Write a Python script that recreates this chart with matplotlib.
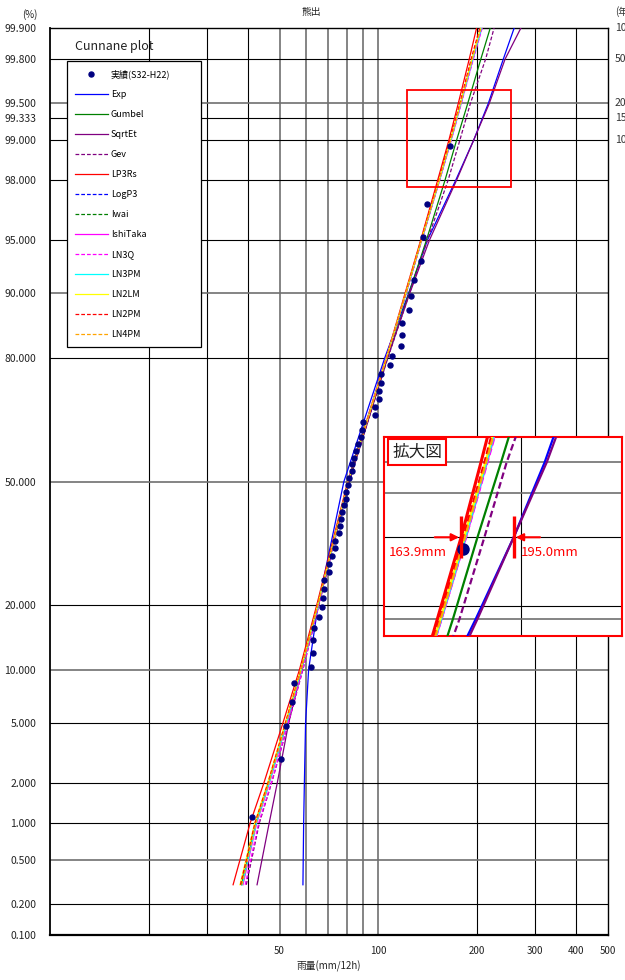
import math
import numpy as np
import matplotlib
matplotlib.use("Agg")
import matplotlib.pyplot as plt
from matplotlib.patches import Rectangle
from matplotlib.ticker import FixedLocator, NullLocator, FixedFormatter

plt.rcParams['font.family'] = ['Noto Sans CJK JP', 'DejaVu Sans']

# observed annual max rainfall (mm/12h), sorted, S32-H22 (54 years)
rain = [41.3, 50.6, 52.3, 54.7, 55.2, 62.4, 63.1, 63.4, 63.6, 65.7,
        67.3, 67.8, 68.3, 68.5, 70.6, 70.8, 72.2, 73.5, 74.0, 75.6,
        76.4, 76.8, 77.5, 78.3, 79.4, 79.9, 80.8, 81.6, 82.9, 83.3,
        84.4, 85.5, 86.6, 88.4, 89.0, 89.6, 97.5, 97.8, 100.3, 100.6,
        101.5, 101.9, 108.8, 110.1, 117.4, 118.2, 118.2, 124.2, 125.3, 128.0,
        134.9, 136.4, 140.3, 165.0]

# non-exceedance probability (%) where the fitted curves were read
p_levels = [0.3, 1, 2, 5, 10, 20, 50, 80, 90, 95, 98, 99, 99.5, 99.8, 99.9]

q_exp      = [58.9, 59.2, 59.5, 60.0, 61.3, 65.5, 78.5, 104.5, 123.5, 141.0, 172.0, 195.0, 216.0, 240.0, 259.0]
q_gumbel   = [38.3, 42.4, 46.3, 52.6, 58.4, 65.6, 81.3, 106.5, 123.8, 140.0, 159.5, 173.0, 187.0, 205.0, 219.0]
q_sqrtet   = [42.7, 46.5, 49.2, 53.3, 58.4, 65.5, 81.5, 106.5, 124.5, 143.0, 173.0, 195.0, 217.5, 243.0, 271.5]
q_gev      = [39.6, 43.4, 47.3, 53.2, 58.9, 65.9, 81.4, 106.8, 124.3, 141.0, 163.0, 177.0, 190.5, 212.0, 225.0]
q_lp3rs    = [36.1, 40.7, 44.8, 51.2, 57.5, 64.9, 80.6, 105.5, 120.5, 134.5, 151.5, 163.9, 175.0, 189.0, 199.0]
q_logp3    = [38.3, 42.3, 46.3, 52.3, 58.2, 65.4, 81.0, 105.8, 121.3, 135.3, 153.3, 166.0, 178.0, 193.0, 205.5]
q_iwai     = [38.2, 42.2, 46.2, 52.2, 58.1, 65.3, 81.0, 105.8, 121.2, 135.2, 153.2, 165.8, 177.5, 192.5, 205.0]
q_ishitaka = [38.7, 42.6, 46.6, 52.6, 58.4, 65.5, 81.0, 105.7, 121.4, 135.5, 153.6, 166.5, 178.5, 194.0, 206.5]
q_ln3q     = [39.3, 43.2, 47.2, 53.1, 58.8, 65.8, 81.1, 105.6, 121.4, 135.5, 153.6, 166.6, 178.8, 194.5, 207.0]
q_ln3pm    = [38.5, 42.5, 46.5, 52.5, 58.3, 65.5, 81.0, 105.7, 121.3, 135.3, 153.4, 166.2, 178.2, 193.5, 206.0]
q_ln2lm    = [37.9, 42.0, 46.0, 52.0, 58.0, 65.3, 81.0, 105.8, 121.0, 135.0, 153.0, 165.5, 177.5, 192.5, 204.5]
q_ln2pm    = [38.0, 42.1, 46.1, 52.1, 58.1, 65.3, 81.0, 105.8, 121.0, 134.8, 152.6, 165.0, 177.0, 191.5, 203.5]
q_ln4pm    = [38.4, 42.4, 46.4, 52.4, 58.2, 65.4, 81.0, 105.8, 121.2, 135.2, 153.2, 166.0, 178.0, 193.0, 205.3]

y_ticks = [0.1, 0.2, 0.5, 1, 2, 5, 10, 20, 50, 80, 90, 95, 98, 99, 99.333, 99.5, 99.8, 99.9]
x_ticks = [50, 100, 200, 300, 400, 500]
ret_p = [99.9, 99.8, 99.5, 99.333, 99]
ret_lab = ['1000', '500', '200', '150', '100']
design_p = 99

dash = (0, (3, 1.6))
models = [
    ('Exp', q_exp, '#0000ff', '-'),
    ('Gumbel', q_gumbel, '#008000', '-'),
    ('SqrtEt', q_sqrtet, '#800080', '-'),
    ('Gev', q_gev, '#800080', dash),
    ('LP3Rs', q_lp3rs, '#ff0000', '-'),
    ('LogP3', q_logp3, '#0000ff', dash),
    ('Iwai', q_iwai, '#008000', dash),
    ('IshiTaka', q_ishitaka, '#ff00ff', '-'),
    ('LN3Q', q_ln3q, '#ff00ff', dash),
    ('LN3PM', q_ln3pm, '#00ffff', '-'),
    ('LN2LM', q_ln2lm, '#ffff00', '-'),
    ('LN2PM', q_ln2pm, '#ff0000', dash),
    ('LN4PM', q_ln4pm, '#ffa500', dash),
]

# Cunnane plotting position
n = len(rain)
pp = [(i - 0.4) / (n + 0.2) * 100 for i in range(1, n + 1)]


# normal probability scale (Acklam approximation for the inverse)
def norm_ppf(p):
    q = np.clip(np.asarray(p, float) / 100.0, 1e-12, 1 - 1e-12)
    a = [-3.969683028665376e+01, 2.209460984245205e+02, -2.759285104469687e+02,
         1.383577518672690e+02, -3.066479806614716e+01, 2.506628277459239e+00]
    b = [-5.447609879822406e+01, 1.615858368580409e+02, -1.556989798598866e+02,
         6.680131188771972e+01, -1.328068155288572e+01]
    c = [-7.784894002430293e-03, -3.223964580411365e-01, -2.400758277161838e+00,
         -2.549732539343734e+00, 4.374664141464968e+00, 2.938163982698783e+00]
    d = [7.784695709041462e-03, 3.224671290700398e-01, 2.445134137142996e+00,
         3.754408661907416e+00]
    ql = np.sqrt(-2 * np.log(q))
    qh = np.sqrt(-2 * np.log(1 - q))
    lo = (((((c[0]*ql+c[1])*ql+c[2])*ql+c[3])*ql+c[4])*ql+c[5]) / ((((d[0]*ql+d[1])*ql+d[2])*ql+d[3])*ql+1)
    hi = -(((((c[0]*qh+c[1])*qh+c[2])*qh+c[3])*qh+c[4])*qh+c[5]) / ((((d[0]*qh+d[1])*qh+d[2])*qh+d[3])*qh+1)
    m = q - 0.5
    r = m * m
    mid = (((((a[0]*r+a[1])*r+a[2])*r+a[3])*r+a[4])*r+a[5])*m / (((((b[0]*r+b[1])*r+b[2])*r+b[3])*r+b[4])*r+1)
    return np.where(q < 0.02425, lo, np.where(q > 1 - 0.02425, hi, mid))


_erf = np.vectorize(math.erf)


def norm_cdf(z):
    z = np.asarray(z, float)
    return 100.0 * 0.5 * (1 + _erf(z / math.sqrt(2)))


fig = plt.figure(figsize=(6.25, 9.8), dpi=100)
ax = fig.add_axes([50/625, 1-935/980, 558/625, 907/980])
ax.set_xscale('log')
ax.set_yscale('function', functions=(norm_ppf, norm_cdf))
ax.set_xlim(10, 500)
ax.set_ylim(0.1, 99.9)

def draw_grid(a, vb, vg, hb, hg, lw=0.8):
    for v in vb:
        a.axvline(v, color='black', lw=lw, zorder=1)
    for v in vg:
        a.axvline(v, color='#707070', lw=lw*1.5, zorder=1)
    for h in hb:
        a.axhline(h, color='black', lw=lw, zorder=1)
    for h in hg:
        a.axhline(h, color='#707070', lw=lw*1.5, zorder=1)

draw_grid(ax, [20, 30, 40, 200, 300, 400], [50, 60, 70, 80, 90, 100],
          [0.2, 1, 2, 5, 20, 80, 95, 98, 99, 99.333, 99.8], [0.5, 10, 50, 90, 99.5])

handles = []
for name, q, col, ls in models:
    h, = ax.plot(q, p_levels, color=col, ls=ls, lw=0.9, label=name, zorder=3)
    handles.append(h)
pts, = ax.plot(rain, pp, 'o', color='#000080', ms=3.6, ls='none', label='実績(S32-H22)', zorder=5)

ax.yaxis.set_major_locator(FixedLocator(y_ticks))
ax.yaxis.set_major_formatter(FixedFormatter(['%.3f' % v for v in y_ticks]))
ax.yaxis.set_minor_locator(NullLocator())
ax.xaxis.set_major_locator(FixedLocator(x_ticks))
ax.xaxis.set_major_formatter(FixedFormatter([str(v) for v in x_ticks]))
ax.xaxis.set_minor_locator(NullLocator())
ax.tick_params(axis='y', length=0, pad=10, labelsize=7.5, labelcolor='#222222')
ax.tick_params(axis='x', length=0, pad=8, labelsize=7, labelcolor='#222222')
ax.set_xlabel('雨量(mm/12h)', fontsize=7, labelpad=3, color='#222222')
for s in ax.spines.values():
    s.set_linewidth(1.0)
ax.spines['bottom'].set_linewidth(1.6)
ax.spines['left'].set_linewidth(1.3)

# zoom frame on the main chart
zoom_x = (122.4, 253.5)
zoom_p = (97.75, 99.617)
ax.add_patch(Rectangle((zoom_x[0], zoom_p[0]), zoom_x[1]-zoom_x[0], zoom_p[1]-zoom_p[0],
                       fill=False, ec='red', lw=1.3, zorder=6))

ax.text(0.045, 0.980, 'Cunnane plot', transform=ax.transAxes, fontsize=9,
        va='center', ha='left', color='#222222', zorder=7)

leg = ax.legend([pts] + handles, ['実績(S32-H22)'] + [m[0] for m in models],
                loc='upper left', bbox_to_anchor=(17/558, 1-(344-28)/907, 134/558, (344-61)/907),
                mode='expand', alignment='center', fontsize=6.5, handlelength=3.6,
                handletextpad=0.35, labelspacing=1.22, borderpad=0.9, fancybox=False,
                framealpha=1, edgecolor='black', borderaxespad=0)
leg.get_frame().set_linewidth(0.9)
leg.set_zorder(10)

# return period labels (cut by the right edge, as in the source)
for p, lab in zip(ret_p, ret_lab):
    ax.text(1.0125, p, lab, transform=ax.get_yaxis_transform(), fontsize=7.5,
            va='center', ha='left', color='#333333')
fig.text(615/625, 1-12/980, '(年)', fontsize=7, va='center', ha='left', color='#333333')
fig.text(22/625, 1-15/980, '(%)', fontsize=7, va='center', ha='left', color='#222222')
fig.text(311/625, 1-12/980, '熊出', fontsize=7, va='center', ha='center', color='#222222')

# magnified view
ax_in = fig.add_axes([384/625, 1-636/980, 238/625, 199/980])
ax_in.set_zorder(20)
ax_in.set_xscale('log')
ax_in.set_yscale('function', functions=(norm_ppf, norm_cdf))
ax_in.set_xlim(127, 279)
ax_in.set_ylim(97.71, 99.61)
draw_grid(ax_in, [200], [], [99, 98.2], [99.5, 99.333, 98])
for name, q, col, ls in models:
    lw = 2.2 if name == 'LP3Rs' else 1.6
    ax_in.plot(q, p_levels, color=col, ls=(0, (3, 1.5)) if ls != '-' else '-', lw=lw, zorder=3)
ax_in.plot(rain, pp, 'o', color='#000080', ms=8, ls='none', zorder=5)
ax_in.set_xticks([])
ax_in.set_yticks([])
ax_in.xaxis.set_minor_locator(NullLocator())
ax_in.yaxis.set_minor_locator(NullLocator())
for s in ax_in.spines.values():
    s.set_color('red')
    s.set_linewidth(1.5)

v_left = q_lp3rs[p_levels.index(design_p)]
v_right = q_exp[p_levels.index(design_p)]
for v, side in [(v_left, -1), (v_right, 1)]:
    ax_in.plot([v], [design_p], marker='|', ms=30, mew=2.4, color='red', zorder=6)
    ax_in.annotate('', xy=(v, design_p), xytext=(side*19, 0), textcoords='offset points',
                   arrowprops=dict(arrowstyle='-|>', color='red', lw=1.5, mutation_scale=11,
                                   shrinkA=0, shrinkB=1.5), zorder=6)
    ax_in.annotate('%.1fmm' % v, xy=(v, design_p), xytext=(side*(10 if side < 0 else 5), -11),
                   textcoords='offset points', ha='right' if side < 0 else 'left',
                   va='center', color='red', fontsize=9.5, zorder=7)

ax_in.text(0.035, 0.925, '拡大図', transform=ax_in.transAxes, fontsize=12, va='center', ha='left',
           color='#222222', zorder=8,
           bbox=dict(boxstyle='square,pad=0.25', fc='white', ec='red', lw=1.5))

fig.savefig('out.png', dpi=100)
